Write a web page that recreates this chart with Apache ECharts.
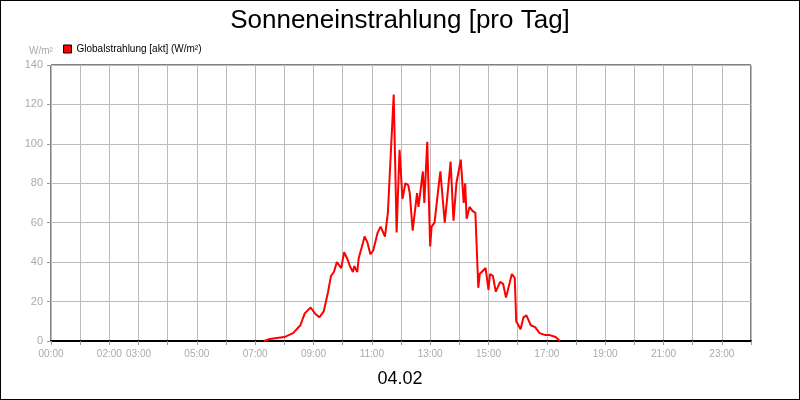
<!DOCTYPE html><html><head><meta charset="utf-8"><script src="https://cdn.jsdelivr.net/npm/echarts@6/dist/echarts.min.js"></script>
<style>html,body{margin:0;padding:0}#c{width:800px;height:400px;box-sizing:border-box;border:1px solid #000}</style></head><body><div id="c"></div><script>
const hours=[7.3,7.5,8.0,8.3,8.55,8.7,8.9,9.05,9.2,9.35,9.5,9.6,9.7,9.8,9.85,9.95,10.05,10.15,10.25,10.35,10.4,10.5,10.55,10.7,10.75,10.85,10.95,11.05,11.1,11.2,11.3,11.35,11.45,11.5,11.55,11.75,11.85,11.95,12.05,12.15,12.25,12.3,12.4,12.55,12.6,12.75,12.8,12.9,13.0,13.05,13.15,13.3,13.35,13.5,13.6,13.7,13.8,13.9,14.05,14.15,14.2,14.25,14.35,14.45,14.55,14.65,14.7,14.9,15.0,15.05,15.15,15.25,15.3,15.4,15.5,15.6,15.65,15.8,15.9,15.95,16.1,16.2,16.3,16.45,16.6,16.75,16.95,17.1,17.3,17.45];
const values=[0,1,2,4,8,14,17,14,12,15,25,33,35,40,41,37,45,42,38,35,38,35,42,50,53,50,44,46,47,55,58,59,53,52,65,125,55,97,72,80,79,75,56,75,68,86,70,101,48,58,60,80,86,60,75,91,61,80,92,70,80,62,68,66,65,27,34,37,26,34,33,25,25,30,29,22,22,34,32,10,6,12,13,8,7,4,3,3,2,0];
const shownHours=[0,2,3,5,7,9,11,13,15,17,19,21,23];
const pad=n=>(n<10?'0':'')+n+':00';
const ch=echarts.init(document.getElementById('c'));
ch.setOption({animation:false,
title:[{text:'Sonneneinstrahlung [pro Tag]',left:'center',top:2,textStyle:{fontFamily:'Liberation Sans',fontSize:26,fontWeight:'normal',color:'#000'}},
{text:'04.02',left:'center',top:364,textStyle:{fontFamily:'Liberation Sans',fontSize:18,fontWeight:'normal',color:'#000'}},
{text:'W/m²',left:23,top:40,textStyle:{fontFamily:'Liberation Sans',fontSize:10,fontWeight:'normal',color:'#aaa'}}],
legend:{left:57,top:38,itemWidth:8,itemHeight:8,itemGap:4,icon:'rect',textStyle:{fontFamily:'Liberation Sans',fontSize:10,color:'#000'},data:[{name:'Globalstrahlung [akt] (W/m²)',itemStyle:{color:'#f00',borderColor:'#000',borderWidth:1}}]},
grid:{left:50,right:48,top:64,bottom:58,show:true,borderColor:'#000',borderWidth:1},
xAxis:{type:'value',min:0,max:24,interval:1,axisLine:{show:true,lineStyle:{color:'#000',width:2}},axisTick:{show:true,length:4,lineStyle:{color:'#999'}},
axisLabel:{color:'#aaa',fontSize:10,fontFamily:'Liberation Sans',formatter:v=>shownHours.includes(v)?pad(v):''},splitLine:{lineStyle:{color:'#bbb'}}},
yAxis:{type:'value',min:0,max:140,interval:20,axisLine:{show:false},axisTick:{show:true,length:4,lineStyle:{color:'#999'}},axisLabel:{color:'#aaa',fontSize:11,fontFamily:'Liberation Sans'},splitLine:{lineStyle:{color:'#bbb'}}},
series:[{name:'Globalstrahlung [akt] (W/m²)',type:'line',showSymbol:false,data:hours.map((h,i)=>[h,values[i]]),lineStyle:{color:'#f00',width:2},itemStyle:{color:'#f00'}}]});
</script></body></html>
